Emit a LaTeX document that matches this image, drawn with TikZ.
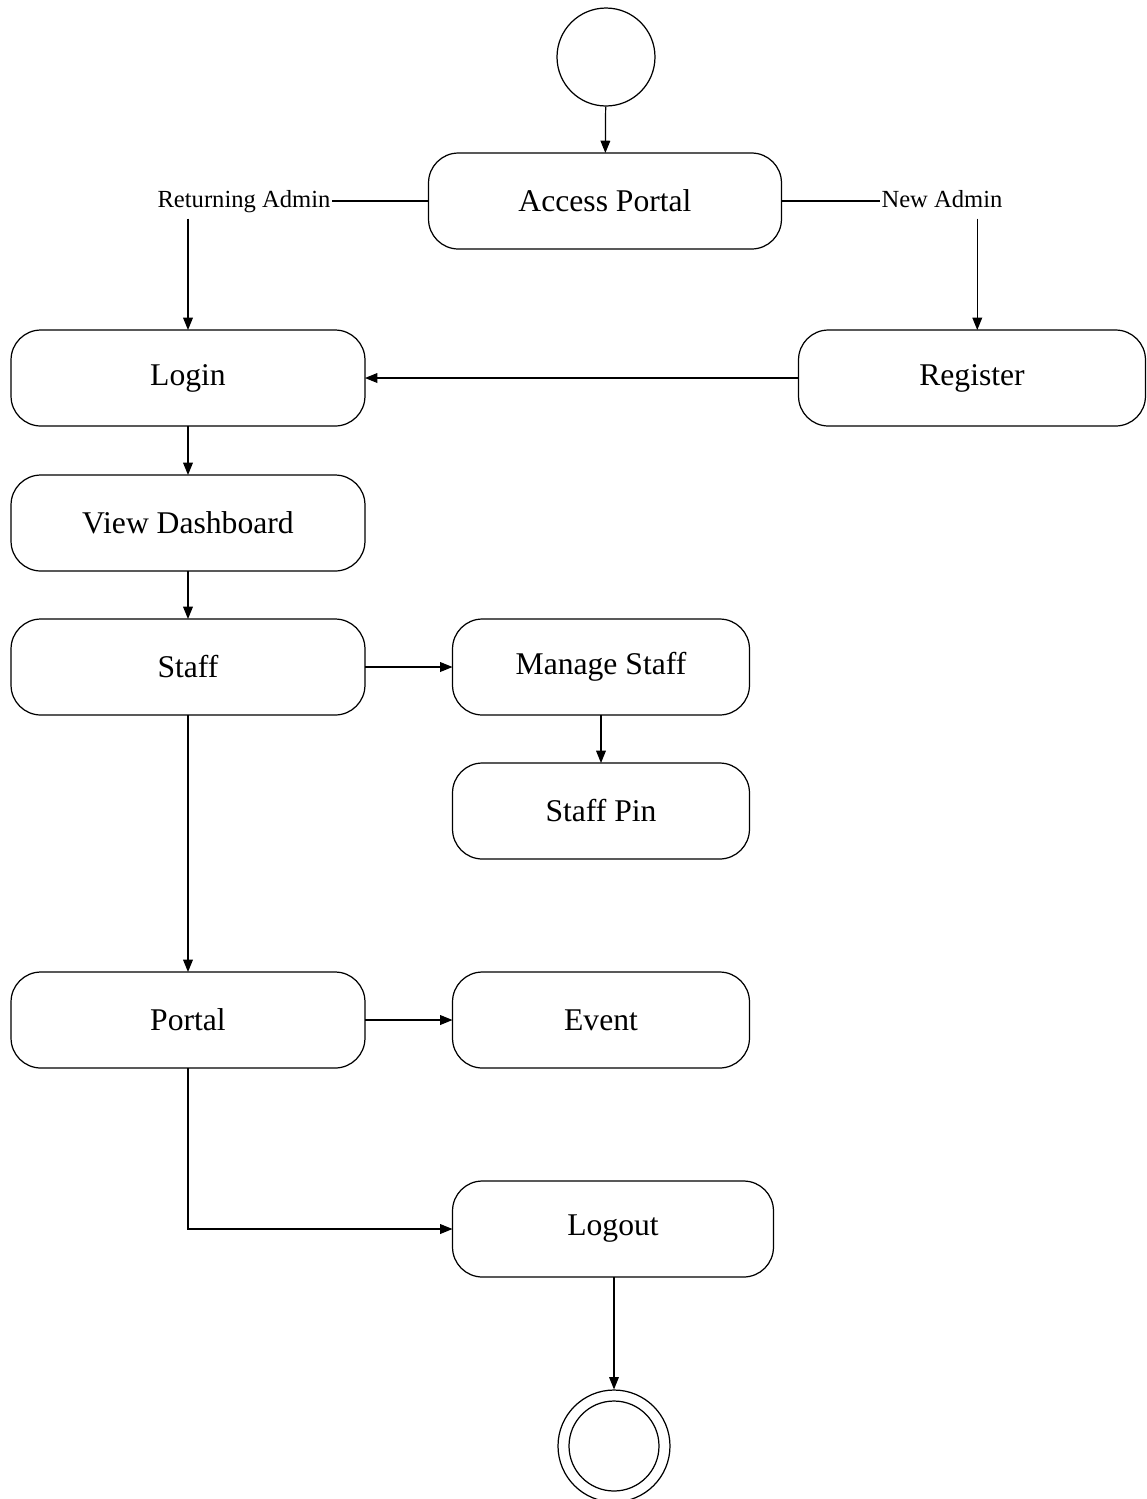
\documentclass[tikz,border=0pt]{standalone}
\usepackage{fontspec}
\setmainfont{Liberation Serif}
\usetikzlibrary{arrows.meta}
\begin{document}
\begin{tikzpicture}[x=0.02cm,y=-0.02cm,
  state/.style={draw, rounded corners=17pt, minimum height=1.92cm, inner sep=0pt, outer sep=0pt,
    line width=0.7pt, font=\fontsize{18}{22}\selectfont},
  wide/.style={state, minimum width=7.08cm},
  mid/.style={state, minimum width=5.94cm},
  guard/.style={inner xsep=0.5pt, inner ysep=3pt, text height=9.5pt, text depth=3pt, font=\fontsize{14}{16}\selectfont},
  arr/.style={-{Triangle[length=7pt,width=5.5pt]}, line width=0.7pt},
  ln/.style={line width=0.7pt}
]
\useasboundingbox (0,0) rectangle (1147,1499);
\node[draw, circle, minimum size=1.96cm, line width=0.7pt] (start) at (606,57) {};
\node[state, minimum width=7.06cm] (ap) at (605,201) {Access Portal};
\node[guard] (ret) at (244,202) {Returning Admin};
\node[guard] (new) at (942,202) {New Admin};
\node[wide] (login) at (188,378) {Login};
\node[state, minimum width=6.94cm] (reg) at (972,378) {Register};
\node[wide] (dash) at (188,523) {View Dashboard};
\node[wide] (staff) at (188,667) {Staff};
\node[mid] (mstaff) at (601,667) {Manage Staff};
\node[mid] (pin) at (601,811) {Staff Pin};
\node[wide] (portal) at (188,1020) {Portal};
\node[mid] (event) at (601,1020) {Event};
\node[state, minimum width=6.42cm] (logout) at (613,1229) {Logout};
\node[draw, circle, minimum size=2.24cm, line width=0.7pt] (final) at (614,1446) {};
\node[draw, circle, minimum size=1.8cm, line width=0.7pt] (finalin) at (final) {};

\draw[arr] (start) -- (ap);
\draw[ln] (ap.west) -- (ap.west -| ret.east);
\draw[ln] (ap.east) -- (ap.east -| new.west);
\draw[arr] (ret.south -| login.north) -- (login.north);
\draw[arr] ([xshift=3pt]new.south -| reg.north) -- ([xshift=3pt]reg.north);
\draw[arr] (reg.west) -- (login.east);
\draw[arr] (login) -- (dash);
\draw[arr] (dash) -- (staff);
\draw[arr] (staff) -- (mstaff);
\draw[arr] (mstaff) -- (pin);
\draw[arr] (staff) -- (portal);
\draw[arr] (portal) -- (event);
\draw[arr] (portal.south) |- (logout.west);
\draw[arr] (logout.south -| final.north) -- (final.north);
\end{tikzpicture}
\end{document}
